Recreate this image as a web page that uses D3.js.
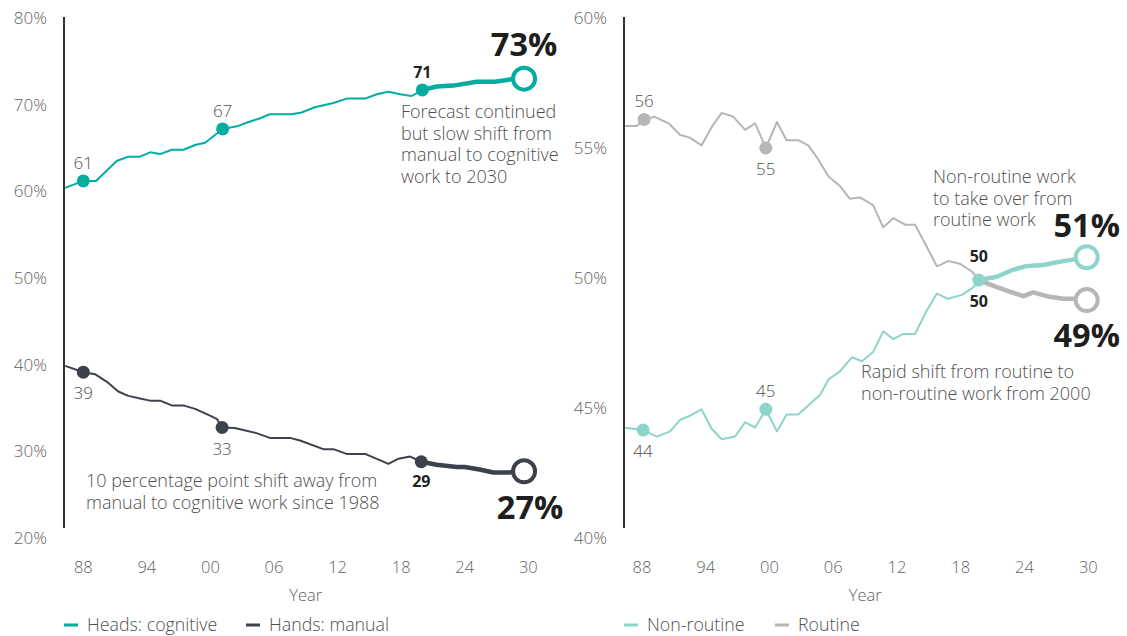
<!DOCTYPE html>
<html><head><meta charset="utf-8">
<script src="https://cdn.jsdelivr.net/npm/d3@7"></script>
<style>
html,body{margin:0;padding:0;background:#fff;}
svg{display:block;font-family:"Open Sans",sans-serif;}
</style></head>
<body><svg id="c" width="1127" height="636"></svg>
<script>
// ---------- DATA ----------
const xTicks = [1988, 1994, 2000, 2006, 2012, 2018, 2024, 2030];
const leftYTicks = [20, 30, 40, 50, 60, 70, 80];
const rightYTicks = [40, 45, 50, 55, 60];

const cognitiveYears = [1986.27,1988,1989.2,1991.15,1992.25,1993.35,1994.3,1995.25,1996.35,1997.45,1998.55,1999.5,2001.15,2002.5,2003.6,2004.5,2005.6,2007.65,2008.6,2009.85,2011.6,2012.85,2014.6,2015.7,2016.8,2017.9,2019,2020];
const cognitiveValues = [60.4,61.2,61.2,63.5,64.0,64.0,64.5,64.3,64.8,64.8,65.35,65.6,67.2,67.5,68.0,68.35,68.9,68.9,69.1,69.7,70.2,70.7,70.7,71.2,71.5,71.2,71.0,71.7];
const cognitiveFcYears = [2020,2021.35,2022.9,2025.15,2026.85,2028.75,2029.6];
const cognitiveFcValues = [71.7,72.1,72.2,72.65,72.65,73.0,73.0];

const manualYears = [1986.3,1988,1989.1,1990.2,1991.3,1992.25,1993.35,1994.3,1995.25,1996.35,1997.45,1998.55,1999.65,2000.6,2001.1,2002.3,2004.35,2005.6,2007.5,2008.45,2010.65,2011.6,2012.85,2014.6,2016.8,2017.75,2018.85,2019.9];
const manualValues = [39.86,39.13,38.9,38.05,36.9,36.4,36.1,35.85,35.85,35.3,35.3,34.9,34.3,33.75,32.75,32.7,32.1,31.55,31.55,31.25,30.25,30.25,29.7,29.7,28.55,29.15,29.4,28.8];
const manualFcYears = [2019.9,2021.35,2023.25,2024,2025.4,2026.7,2028.1,2029.6];
const manualFcValues = [28.8,28.45,28.2,28.2,27.9,27.55,27.55,27.7];

const nonRoutineYears = [1986.4,1988.1,1989.4,1990.65,1991.6,1992.5,1993.6,1994.55,1995.5,1996.75,1997.7,1998.65,1999.65,2000.7,2001.6,2002.7,2003.65,2004.75,2005.55,2006.6,2007.75,2008.7,2009.75,2010.7,2011.65,2012.6,2013.7,2014.8,2015.75,2016.8,2018.1,2019.2,2019.7];
const nonRoutineValues = [44.24,44.15,43.9,44.1,44.55,44.7,44.95,44.2,43.8,43.9,44.45,44.25,44.95,44.1,44.75,44.75,45.1,45.5,46.1,46.4,46.95,46.8,47.15,47.95,47.65,47.85,47.85,48.75,49.4,49.2,49.35,49.65,49.92];
const nonRoutineFcYears = [2019.7,2021.4,2022.8,2024.05,2025.75,2027.65,2029.85];
const nonRoutineFcValues = [49.92,50.05,50.3,50.45,50.5,50.65,50.8];

const routineYears = [1986.4,1987.5,1988.2,1989.2,1990.5,1991.6,1992.5,1993.6,1994.55,1995.5,1996.6,1997.7,1998.65,1999.65,2000.7,2001.6,2002.7,2003.65,2004.6,2005.55,2006.6,2007.55,2008.5,2009.75,2010.7,2011.65,2012.75,2013.7,2014.8,2015.75,2016.8,2017.9,2019.05,2019.7];
const routineValues = [55.85,55.85,56.1,56.2,55.95,55.5,55.4,55.1,55.8,56.35,56.2,55.7,55.95,55.0,56.0,55.3,55.3,55.1,54.55,53.9,53.55,53.05,53.1,52.8,51.95,52.3,52.05,52.05,51.2,50.45,50.65,50.55,50.25,49.92];
const routineFcYears = [2019.7,2020.1,2021.4,2022.8,2023.9,2024.8,2026.1,2027.65,2028.75,2029.85];
const routineFcValues = [49.92,49.85,49.65,49.45,49.3,49.45,49.3,49.2,49.2,49.15];

// callouts: [year, value, text, position]
const cognitiveCallouts = [[1988,61.2,"61","above"],[2001.15,67.2,"67","above"]];
const manualCallouts = [[1988,39.13,"39","below"],[2001.1,32.75,"33","below"]];
const routineCallouts = [[1988.2,56.1,"56","above"],[1999.65,55.0,"55","below"]];
const nonRoutineCallouts = [[1988.1,44.15,"44","below"],[1999.65,44.95,"45","above"]];

const colors = {cognitive:"#00ada0", manual:"#3c414b", nonRoutine:"#8dd5ca", routine:"#b5b6b7"};

// ---------- SCALES ----------
const svg = d3.select("#c");
const xL = d3.scaleLinear().domain([1988, 2030]).range([83.3, 528.3]);
const yL = d3.scaleLinear().domain([20, 80]).range([538, 18]);
const xR = d3.scaleLinear().domain([1988, 2030]).range([642, 1088.3]);
const yR = d3.scaleLinear().domain([40, 60]).range([538, 18]);

const tickColor = "#5f5f5f";
const textColor = "#4f4f4f";
const LIGHT = 300;

function axes(x, y, yTicks, axisX) {
  svg.append("line").attr("x1", axisX).attr("x2", axisX)
    .attr("y1", y.range()[1] - 1).attr("y2", y.range()[0] - 10)
    .attr("stroke", "#333").attr("stroke-width", 2);
  svg.append("g").selectAll("text").data(yTicks).join("text")
    .attr("x", axisX - 17).attr("y", d => y(d))
    .attr("dy", "0.35em").attr("text-anchor", "end")
    .attr("font-size", 17).attr("font-weight", LIGHT).attr("fill", tickColor)
    .text(d => d + "%");
  svg.append("g").selectAll("text").data(xTicks).join("text")
    .attr("x", d => x(d)).attr("y", 567).attr("dy", "0.35em")
    .attr("text-anchor", "middle").attr("font-size", 16.5).attr("font-weight", LIGHT).attr("fill", tickColor)
    .text(d => String(d % 100).padStart(2, "0"));
  svg.append("text").attr("x", (x(1988) + x(2030)) / 2).attr("y", 595).attr("dy", "0.35em")
    .attr("text-anchor", "middle").attr("font-size", 16.5).attr("font-weight", LIGHT).attr("fill", tickColor).text("Year");
}

function series(x, y, years, values, fcYears, fcValues, color) {
  const line = d3.line().x(d => x(d[0])).y(d => y(d[1]));
  const hist = years.map((yr, i) => [yr, values[i]]);
  const fc = fcYears.map((yr, i) => [yr, fcValues[i]]);
  svg.append("path").datum(hist).attr("d", line).attr("fill", "none")
    .attr("stroke", color).attr("stroke-width", 2).attr("stroke-linejoin", "round");
  svg.append("path").datum(fc).attr("d", line).attr("fill", "none")
    .attr("stroke", color).attr("stroke-width", 4.5).attr("stroke-linejoin", "round").attr("stroke-linecap", "round");
  const last = fc[fc.length - 1];
  svg.append("circle").attr("cx", x(last[0])).attr("cy", y(last[1])).attr("r", 11)
    .attr("fill", "#fff").attr("stroke", color).attr("stroke-width", 4);
}

function callouts(x, y, list, color) {
  list.forEach(c => {
    svg.append("circle").attr("cx", x(c[0])).attr("cy", y(c[1])).attr("r", 6.5).attr("fill", color);
    svg.append("text").attr("x", x(c[0])).attr("y", y(c[1]) + (c[3] === "above" ? -12 : 27))
      .attr("text-anchor", "middle").attr("font-size", 17).attr("font-weight", LIGHT)
      .attr("fill", textColor).text(c[2]);
  });
}

function dotLabel(x, y, yr, val, color, text, dy) {
  svg.append("circle").attr("cx", x(yr)).attr("cy", y(val)).attr("r", 6.5).attr("fill", color);
  svg.append("text").attr("x", x(yr)).attr("y", y(val) + dy)
    .attr("text-anchor", "middle").attr("font-size", 16).attr("font-weight", 700)
    .attr("fill", "#222").text(text);
}

function bigLabel(x, y, yr, val, text, dy, dx) {
  svg.append("text").attr("x", x(yr) + dx).attr("y", y(val) + dy)
    .attr("text-anchor", "middle").attr("font-size", 32.5).attr("font-weight", 700)
    .attr("fill", "#1e1e1e").text(text);
}

function annotation(x0, y0, lines, lh) {
  lines.forEach((l, i) => svg.append("text").attr("x", x0).attr("y", y0 + i * lh)
    .attr("font-size", 18).attr("font-weight", LIGHT).attr("fill", textColor).text(l));
}

// ---------- LEFT CHART ----------
axes(xL, yL, leftYTicks, 64);
series(xL, yL, cognitiveYears, cognitiveValues, cognitiveFcYears, cognitiveFcValues, colors.cognitive);
series(xL, yL, manualYears, manualValues, manualFcYears, manualFcValues, colors.manual);
callouts(xL, yL, cognitiveCallouts, colors.cognitive);
callouts(xL, yL, manualCallouts, colors.manual);
dotLabel(xL, yL, 2020, 71.7, colors.cognitive, "71", -12);
dotLabel(xL, yL, 2019.9, 28.8, colors.manual, "29", 25);
bigLabel(xL, yL, 2029.6, 73.0, "73%", -23, 0);
bigLabel(xL, yL, 2029.6, 27.7, "27%", 48, 6);
annotation(401, 118, ["Forecast continued", "but slow shift from", "manual to cognitive", "work to 2030"], 21.5);
annotation(86, 487, ["10 percentage point shift away from", "manual to cognitive work since 1988"], 21.5);

// ---------- RIGHT CHART ----------
axes(xR, yR, rightYTicks, 624);
series(xR, yR, routineYears, routineValues, routineFcYears, routineFcValues, colors.routine);
series(xR, yR, nonRoutineYears, nonRoutineValues, nonRoutineFcYears, nonRoutineFcValues, colors.nonRoutine);
callouts(xR, yR, routineCallouts, colors.routine);
callouts(xR, yR, nonRoutineCallouts, colors.nonRoutine);
dotLabel(xR, yR, 2019.7, 49.92, colors.nonRoutine, "50", -18);
svg.append("text").attr("x", xR(2019.7)).attr("y", yR(49.92) + 27)
  .attr("text-anchor", "middle").attr("font-size", 16).attr("font-weight", 700).attr("fill", "#222").text("50");
bigLabel(xR, yR, 2029.85, 50.8, "51%", -20, 0);
bigLabel(xR, yR, 2029.85, 49.15, "49%", 47, 0);
annotation(933, 183, ["Non-routine work", "to take over from", "routine work"], 21.5);
annotation(861, 378, ["Rapid shift from routine to", "non-routine work from 2000"], 21.5);

// ---------- LEGENDS ----------
const legendItems = [
  ["Heads: cognitive", colors.cognitive, 64],
  ["Hands: manual", colors.manual, 246],
  ["Non-routine", colors.nonRoutine, 624],
  ["Routine", colors.routine, 775]
];
legendItems.forEach(([label, color, x0]) => {
  svg.append("line").attr("x1", x0).attr("x2", x0 + 14).attr("y1", 625).attr("y2", 625)
    .attr("stroke", color).attr("stroke-width", 3);
  svg.append("text").attr("x", x0 + 23).attr("y", 625).attr("dy", "0.35em")
    .attr("font-size", 17.8).attr("font-weight", LIGHT).attr("fill", textColor).text(label);
});
</script></body></html>
